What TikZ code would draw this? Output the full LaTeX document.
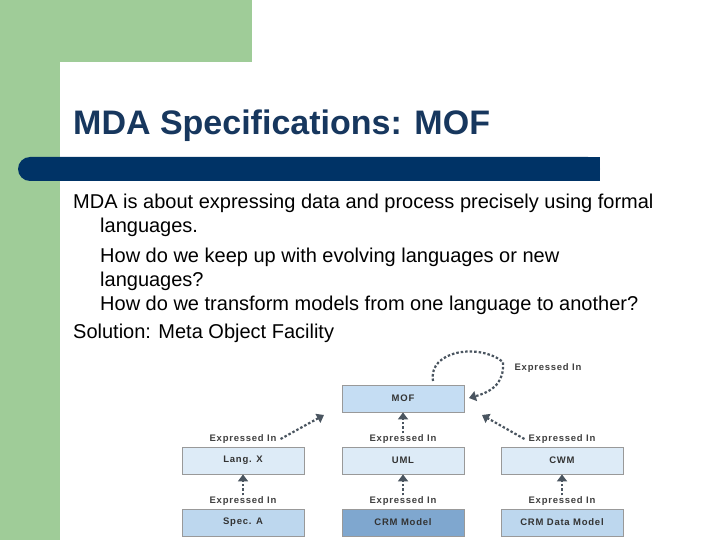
\documentclass[tikz,border=0pt]{standalone}
\usepackage{fontspec}
\setmainfont{Liberation Sans}
\newfontfamily\spacedfont[LetterSpace=8]{Liberation Sans}
\usetikzlibrary{arrows.meta}
\definecolor{grn}{HTML}{9FCC98}
\definecolor{bar}{HTML}{003366}
\definecolor{ttl}{HTML}{17375E}
\definecolor{arr}{HTML}{4A5560}
\begin{document}
\begin{tikzpicture}[x=1pt,y=-1pt,
  box/.style={draw=gray!80,line width=0.8pt,minimum width=122pt,minimum height=27pt,inner sep=0pt,font=\spacedfont\fontsize{9.5}{10}\selectfont\bfseries,text=black!80},
  lbl/.style={font=\spacedfont\fontsize{9.5}{10}\selectfont\bfseries,text=black!75,inner sep=1pt},
  darr/.style={draw=arr,line width=2.2pt,dash pattern=on 2.5pt off 2pt,-{Triangle[length=7pt,width=10pt]}},
  body/.style={anchor=base west,font=\fontsize{20}{22}\selectfont,inner sep=0pt}]
\useasboundingbox (0,0) rectangle (720,540);
\fill[white] (0,0) rectangle (720,540);
\fill[grn] (0,0) rectangle (252,62);
\fill[grn] (0,0) rectangle (60,540);
\fill[white] (60,540) -- (60,84) arc[start angle=180,end angle=90,radius=22] -- (720,62) -- (720,540) -- cycle;
\fill[bar,rounded corners=12pt] (18,157) rectangle (600,181);
\fill[bar] (300,157) rectangle (600,181);
\node[anchor=base west,inner sep=0pt,text=ttl,font=\fontsize{34}{36}\selectfont\bfseries] (title) at (73,135) {MDA Specifications: MOF};
\node[body] (t1) at (73,209) {MDA is about expressing data and process precisely using formal};
\node[body] (t2) at (100,233) {languages.};
\node[body] (t3) at (100,262) {How do we keep up with evolving languages or new};
\node[body] (t4) at (100,286) {languages?};
\node[body] (t5) at (100,310) {How do we transform models from one language to another?};
\node[body] (t6) at (73,338) {Solution: Meta Object Facility};
\node[box,fill={rgb,255:red,197;green,221;blue,243}] (mof) at (403,398.5) {MOF};
\node[box,fill={rgb,255:red,221;green,235;blue,247}] (lx) at (243,460.5) {Lang. X};
\node[box,fill={rgb,255:red,221;green,235;blue,247}] (uml) at (403,460.5) {UML};
\node[box,fill={rgb,255:red,221;green,235;blue,247}] (cwm) at (562,460.5) {CWM};
\node[box,fill={rgb,255:red,189;green,215;blue,238}] (sa) at (243,522.5) {Spec. A};
\node[box,fill={rgb,255:red,127;green,167;blue,207}] (crm) at (403,522.5) {CRM Model};
\node[box,fill={rgb,255:red,189;green,215;blue,238}] (crmd) at (562,522.5) {CRM Data Model};
\node[lbl] (l1) at (243,439) {Expressed In};
\node[lbl] (l2) at (403,439) {Expressed In};
\node[lbl] (l3) at (562,439) {Expressed In};
\node[lbl] (l4) at (243,501) {Expressed In};
\node[lbl] (l5) at (403,501) {Expressed In};
\node[lbl] (l6) at (562,501) {Expressed In};
\node[lbl] (l7) at (548,368) {Expressed In};
\draw[darr] (l1.east) ++(3,0) coordinate (a1) -- (324,415);
\draw[darr] (l3.west) ++(-3,0) coordinate (a3) -- (482,415);
\draw[darr] (l2.north) -- (mof.south);
\draw[darr] (l4.north) -- (lx.south);
\draw[darr] (l5.north) -- (uml.south);
\draw[darr] (l6.north) -- (cwm.south);
\draw[darr] (433,381) .. controls (428,350) and (480,343) .. (503,362) .. controls (504,378) and (498,390) .. (469,398);
\end{tikzpicture}
\end{document}
